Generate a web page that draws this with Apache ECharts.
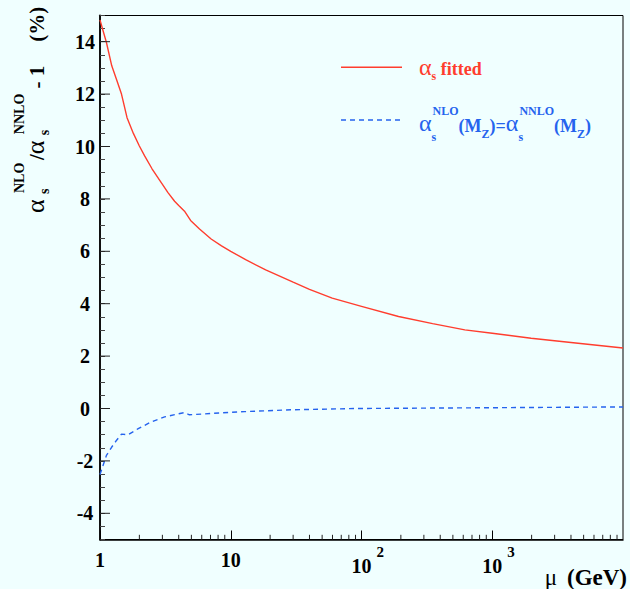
<!DOCTYPE html>
<html>
<head>
<meta charset="utf-8">
<script src="https://cdn.jsdelivr.net/npm/echarts/dist/echarts.min.js"></script>
<style>
  html, body { margin: 0; padding: 0; background: #f0ffff; }
  #chart { width: 630px; height: 589px; }
</style>
</head>
<body>
<div id="chart"></div>
<script>
// Renormalisation scale mu (GeV) and relative difference alpha_s^NLO / alpha_s^NNLO - 1 (%)
const muFitted  = [1, 1.12, 1.23, 1.35, 1.46, 1.61, 1.8, 2.0, 2.2, 2.5, 2.95, 3.3, 3.72, 4.0, 4.43, 4.93, 5.77, 7.08, 8.5, 10, 13, 18.5, 30, 40, 59.7, 100, 192, 350, 617, 1000, 1983, 4000, 10000];
const devFitted = [14.83, 13.97, 13.08, 12.5, 12.0, 11.1, 10.5, 10.02, 9.63, 9.15, 8.61, 8.25, 7.91, 7.75, 7.53, 7.18, 6.85, 6.47, 6.21, 6.0, 5.68, 5.29, 4.82, 4.55, 4.21, 3.9, 3.51, 3.24, 3.0, 2.87, 2.68, 2.52, 2.31];

const muEqual  = [1, 1.12, 1.23, 1.34, 1.46, 1.64, 1.96, 2.47, 3.12, 4.18, 4.4, 4.83, 7.08, 12.7, 28.8, 91.2, 1000, 10000];
const devEqual = [-2.52, -1.79, -1.47, -1.21, -0.98, -1.0, -0.77, -0.51, -0.32, -0.18, -0.16, -0.24, -0.19, -0.12, -0.05, 0, 0.03, 0.06];

// axis extents and tick values
const xRange = [1, 10000];
const yRange = [-5, 15];
const xDecadeLabels = ['1', '10', '10|2', '10|3', ''];
const xMinorTicks = [2, 3, 4, 5, 6, 7, 8, 9, 20, 30, 40, 50, 60, 70, 80, 90,
                     200, 300, 400, 500, 600, 700, 800, 900, 2000, 3000, 4000, 5000, 6000, 7000, 8000, 9000];
const yMajorTicks = [-4, -2, 0, 2, 4, 6, 8, 10, 12, 14];

const nameFitted = 'αs fitted';
const nameEqual = 'αsNLO(MZ)=αsNNLO(MZ)';

const RED = '#ff3d2e';
const BLUE = '#2563ee';
const SERIF = 'Liberation Serif';

const chart = echarts.init(document.getElementById('chart'), null, { renderer: 'svg' });

function tickMark(dx, dy) {
  return function (params, api) {
    const p = api.coord([api.value(0), api.value(1)]);
    return {
      type: 'line',
      shape: { x1: p[0], y1: p[1], x2: p[0] + dx, y2: p[1] + dy },
      style: { stroke: '#222', lineWidth: 1 }
    };
  };
}

// rich-text piece: every piece is top-anchored, offset by its own top padding
function piece(size, bold, color, top, extra) {
  return Object.assign({
    fontFamily: SERIF, fontSize: size, fontWeight: bold ? 'bold' : 'normal',
    fill: color, color: color, lineHeight: size, verticalAlign: 'top', padding: [top, 0, 0, 0]
  }, extra || {});
}

const option = {
  backgroundColor: '#f0ffff',
  animation: false,
  grid: {
    left: 100, right: 5.7, top: 15.5, bottom: 49.5,
    show: true, borderColor: '#000', borderWidth: 1, backgroundColor: 'transparent'
  },
  xAxis: {
    type: 'log', logBase: 10, min: xRange[0], max: xRange[1], splitNumber: 4,
    axisLine: { onZero: false, lineStyle: { color: '#000', width: 1.5 } },
    axisTick: { inside: true, length: 9, lineStyle: { color: '#000', width: 1 } },
    splitLine: { show: false },
    axisLabel: {
      margin: 5,
      showMaxLabel: false,
      formatter: function (v) {
        const lbl = xDecadeLabels[Math.round(Math.log10(v))] || '';
        if (!lbl) return '';
        const parts = lbl.split('|');
        return parts.length === 1 ? '{n|' + parts[0] + '}' : '{q|' + parts[0] + '}{e|' + parts[1] + '}';
      },
      rich: {
        n: { fontFamily: SERIF, fontWeight: 'bold', fontSize: 20, lineHeight: 31, color: '#000' },
        q: { fontFamily: SERIF, fontWeight: 'bold', fontSize: 20, lineHeight: 43, padding: [0, 0, 0, 12.5], color: '#000' },
        e: { fontFamily: SERIF, fontWeight: 'bold', fontSize: 15, lineHeight: 15, verticalAlign: 'top', padding: [0, 0, 0, 5], color: '#000' }
      }
    },
    name: '{m|μ}{g|(GeV)}',
    nameLocation: 'end',
    nameGap: 4,
    nameTextStyle: {
      align: 'right', verticalAlign: 'top', padding: [22.5, 0, 0, 0],
      rich: {
        m: { fontFamily: SERIF, fontSize: 23, lineHeight: 30, color: '#000' },
        g: { fontFamily: SERIF, fontWeight: 'bold', fontSize: 23, lineHeight: 30, padding: [0, 0, 0, 10], color: '#000' }
      }
    }
  },
  yAxis: {
    type: 'value', min: yRange[0], max: yRange[1], interval: 0.5,
    axisLine: { onZero: false, lineStyle: { color: '#111', width: 2 } },
    axisTick: { inside: true, length: 5, lineStyle: { color: '#444', width: 1 } },
    splitLine: { show: false },
    axisLabel: {
      margin: 15, align: 'center',
      fontFamily: SERIF, fontWeight: 'bold', fontSize: 20, color: '#000',
      formatter: function (v) { return yMajorTicks.indexOf(v) >= 0 ? String(v) : ''; }
    }
  },
  graphic: [
    // y-axis title, reading upwards
    {
      type: 'text', x: 5, y: 213, rotation: Math.PI / 2, silent: true,
      style: {
        text: '{A|α}{S|s}{P|NLO}{M|/}{A|α}{S|s}{Q|NNLO}{M| - 1}{G| }{M|(%)}',
        align: 'left', verticalAlign: 'top',
        rich: {
          A: piece(26, false, '#000', 17.5, { width: 19 }),
          S: piece(14, true, '#000', 32.5, { width: 1 }),
          P: piece(14, true, '#000', 7.5, { width: 33 }),
          Q: piece(14, true, '#000', 7.5),
          M: piece(21, true, '#000', 21.6),
          G: piece(21, true, '#000', 21.6, { width: 24 })
        }
      }
    },
    // key
    { type: 'line', silent: true, shape: { x1: 341, y1: 67.3, x2: 402, y2: 67.3 }, style: { stroke: RED, lineWidth: 1.4 } },
    {
      type: 'text', x: 419, y: 42.3, silent: true,
      style: {
        text: '{a|α}{s|s}{f| fitted}',
        align: 'left', verticalAlign: 'top',
        rich: {
          a: piece(24, false, RED, 12.9),
          s: piece(12, true, RED, 28.2),
          f: piece(18, true, RED, 17.9)
        }
      }
    },
    { type: 'line', silent: true, shape: { x1: 341, y1: 120, x2: 402, y2: 120 }, style: { stroke: BLUE, lineWidth: 1.4, lineDash: [5, 4] } },
    {
      type: 'text', x: 419, y: 95, silent: true,
      style: {
        text: '{a|α}{s|s}{p|NLO}{m|(M}{z|Z}{m|)=}{a|α}{s|s}{p|NNLO}{m|(M}{z|Z}{m|)}',
        align: 'left', verticalAlign: 'top',
        rich: {
          a: piece(24, false, BLUE, 16.2),
          s: piece(12, true, BLUE, 36, { width: 1 }),
          p: piece(12, true, BLUE, 10.1),
          m: piece(18, true, BLUE, 21.5),
          z: piece(12, true, BLUE, 33.3)
        }
      }
    }
  ],
  series: [
    {
      name: nameFitted, type: 'line', symbol: 'none',
      data: muFitted.map((m, i) => [m, devFitted[i]]),
      lineStyle: { color: RED, width: 1.4 },
      itemStyle: { color: RED },
      z: 3
    },
    {
      name: nameEqual, type: 'line', symbol: 'none',
      data: muEqual.map((m, i) => [m, devEqual[i]]),
      lineStyle: { color: BLUE, width: 1.4, type: [5, 4] },
      itemStyle: { color: BLUE },
      z: 3
    },
    {
      name: 'x minor ticks', type: 'custom', silent: true, clip: false, z: 4,
      data: xMinorTicks.map(v => [v, yRange[0]]),
      renderItem: tickMark(0, -4.7)
    },
    {
      name: 'y major ticks', type: 'custom', silent: true, clip: false, z: 4,
      data: yMajorTicks.map(v => [xRange[0], v]),
      renderItem: tickMark(10, 0)
    }
  ]
};

chart.setOption(option);
</script>
</body>
</html>
